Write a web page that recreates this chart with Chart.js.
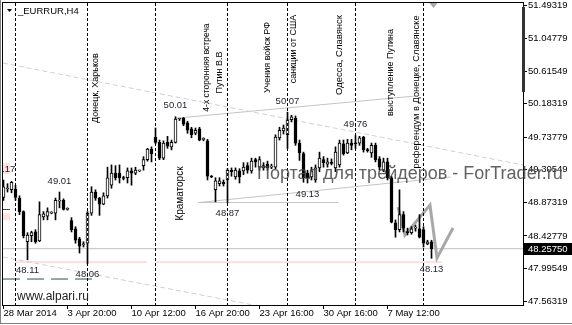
<!DOCTYPE html>
<html><head><meta charset="utf-8">
<script src="https://cdn.jsdelivr.net/npm/chart.js@4.4.1/dist/chart.umd.min.js"></script>
<style>html,body{margin:0;padding:0;background:#fff;}canvas{display:block;}</style>
</head><body>
<canvas id="c" width="572" height="325"></canvas>
<script>
// ---------- data ----------
const symbolName = "_EURRUR,H4";
const opens  = [48.94,49.05,49.04,49.05,48.93,48.75,48.35,48.43,48.48,48.36,48.68,48.69,48.73,48.73,48.89,48.90,48.78,48.63,48.52,48.39,48.31,48.33,48.73,49.01,48.93,48.85,48.96,49.10,49.26,49.26,49.20,49.20,49.29,49.26,49.29,49.36,49.44,49.58,49.74,49.67,49.46,49.67,49.61,49.67,49.98,49.99,49.93,49.85,49.79,49.85,49.71,49.69,49.22,49.04,49.12,49.14,49.17,49.30,49.21,49.29,49.29,49.36,49.29,49.44,49.34,49.33,49.38,49.34,49.34,49.73,49.82,49.77,49.97,49.99,49.66,49.52,49.26,49.21,49.17,49.33,49.44,49.38,49.40,49.33,49.37,49.65,49.53,49.66,49.66,49.66,49.74,49.57,49.53,49.63,49.45,49.30,49.41,49.20,48.60,48.51,48.71,48.48,48.47,48.53,48.52,48.51,48.32,48.35];
const highs  = [49.17,49.12,49.15,49.10,48.96,48.76,48.47,48.49,48.51,48.88,48.75,48.80,48.75,48.93,49.01,48.92,48.80,48.67,48.55,48.41,48.35,48.75,49.08,49.04,48.94,49.00,49.34,49.37,49.36,49.37,49.22,49.33,49.33,49.34,49.30,49.48,49.59,49.61,49.86,49.70,49.69,49.75,49.70,50.01,49.99,50.00,49.95,49.87,49.86,49.87,49.73,49.71,49.23,49.20,49.20,49.17,49.32,49.33,49.33,49.32,49.40,49.40,49.46,49.46,49.48,49.40,49.42,49.38,49.77,49.87,49.90,50.07,50.03,50.02,49.70,49.54,49.30,49.34,49.37,49.54,49.48,49.46,49.45,49.61,49.70,49.70,49.71,49.71,49.76,49.75,49.75,49.59,49.66,49.66,49.48,49.46,49.46,49.22,48.64,49.04,48.75,48.53,48.55,48.57,48.71,48.55,48.37,48.37];
const lows   = [48.90,49.01,49.00,48.90,48.71,48.40,48.11,48.35,48.33,48.35,48.64,48.64,48.72,48.64,48.80,48.77,48.77,48.48,48.33,48.20,48.28,48.06,48.70,48.90,48.70,48.84,48.93,49.06,49.17,49.13,49.17,49.13,49.10,49.24,49.28,49.30,49.42,49.41,49.65,49.44,49.44,49.59,49.57,49.66,49.96,49.89,49.79,49.73,49.77,49.69,49.69,49.17,49.20,48.88,49.09,49.09,48.87,49.22,49.18,49.13,49.24,49.26,49.26,49.34,49.30,49.30,49.30,49.32,49.32,49.70,49.78,49.59,49.94,49.63,49.43,49.14,49.13,49.17,49.14,49.28,49.34,49.34,49.37,49.28,49.34,49.50,49.52,49.57,49.59,49.63,49.54,49.54,49.47,49.41,49.30,49.28,49.17,48.60,48.41,48.48,48.48,48.44,48.45,48.49,48.40,48.28,48.31,48.13];
const closes = [49.08,49.06,49.14,48.94,48.75,48.43,48.44,48.47,48.35,48.71,48.72,48.75,48.74,48.90,48.90,48.78,48.78,48.51,48.37,48.29,48.32,48.73,49.01,48.93,48.85,48.96,49.20,49.26,49.20,49.20,49.19,49.29,49.26,49.30,49.29,49.44,49.58,49.52,49.67,49.46,49.66,49.62,49.67,49.98,49.98,49.91,49.83,49.77,49.83,49.70,49.71,49.22,49.21,49.16,49.16,49.12,49.30,49.28,49.30,49.21,49.34,49.30,49.42,49.41,49.44,49.36,49.33,49.35,49.74,49.83,49.86,49.97,50.01,49.66,49.53,49.20,49.20,49.29,49.33,49.46,49.40,49.41,49.39,49.54,49.66,49.52,49.66,49.63,49.65,49.73,49.57,49.56,49.63,49.44,49.34,49.41,49.20,48.61,48.51,48.71,48.53,48.47,48.52,48.54,48.41,48.33,48.35,48.2575];

const timeLabels = ["28 Mar 2014","3 Apr 20:00","10 Apr 12:00","16 Apr 20:00","23 Apr 16:00","30 Apr 16:00","7 May 12:00"];
const timeLabelBars = [0,16,32,48,64,80,96];
const priceTicks = [51.49319,51.04779,50.61549,50.18319,49.73779,49.30549,48.87319,48.42779,47.99549,47.56319];
const lastPrice = 48.25750;

const eventBars = [3,21,38,56,71,88,105];
const eventTexts = ["Донецк, Харьков","Краматорск","4-х сторонняя встреча","Путин В.В","Учения войск РФ","санкции от США","Одесса, Славянск","выступление Путина","референдум в Донецке, Славянске"];

const extremeTexts = ["49.17","48.11","49.01","48.06","50.01","48.87","50.07","49.13","49.76","48.13"];
const extremeBars  = [0,6,14,21,43,56,71,76,88,107];
const extremeKinds = ["high","low","high","low","high","low","high","low","high","low"];

// drawn objects (bar index / price)
const channelUpperX = [-0.125,129.875], channelUpperY = [50.723,49.369];
const channelLowerX = [-0.125,62.5],    channelLowerY = [48.147,47.510];
const resistX = [43,103],               resistY = [49.99,50.285];
const supportX = [48.75,83.75],         supportY = [48.87,48.87];
const risingX = [48.75,111.75],         risingY = [48.87,49.21];
const pinkAX = [2.875,35.875], pinkBX = [38.125,109.625], pinkLevel = 48.08;
const tealX = [-0.125,22.375], tealLevel = 47.855;
const zigzagX = [98.625,100.375,106.625,108.375,112.375];
const zigzagY = [48.811,48.439,48.838,48.134,48.532];

// ---------- build ----------
const N = opens.length;
const wickData = [], bodyData = [], bodyFill = [];
for (let i = 0; i < N; i++) {
  wickData.push({x: i, y: [lows[i], highs[i]]});
  bodyData.push({x: i, y: [opens[i], closes[i]]});
  bodyFill.push(closes[i] >= opens[i] ? '#ffffff' : '#000000');
}
const pts = (xs, ys) => xs.map((x, k) => ({x: x, y: Array.isArray(ys) ? ys[k] : ys}));
const lineDs = (data, color, width, dash, order) => ({type: 'line', data, borderColor: color, borderWidth: width, borderDash: dash || [], pointRadius: 0, fill: false, tension: 0, order: order});

const FONT = "'Liberation Sans', Arial, sans-serif";

const notes = [
  {t: 0, x: 23.125, y: 50.391, s: 9},
  {t: 1, x: 44.125, y: 48.990, s: 10},
  {t: 2, x: 50.875, y: 50.663, s: 8.5},
  {t: 3, x: 54.125, y: 50.597, s: 9},
  {t: 4, x: 66.0,   y: 50.796, s: 9},
  {t: 5, x: 72.625, y: 50.909, s: 9},
  {t: 6, x: 83.875, y: 50.829, s: 9.5},
  {t: 7, x: 96.875, y: 50.597, s: 9},
  {t: 8, x: 103.125, y: 50.338, s: 9.3}
];

const decor = {
  id: 'decor',
  afterDatasetsDraw(chart) {
    const ctx = chart.ctx, a = chart.chartArea, sx = chart.scales.x, sy = chart.scales.y;
    // event lines
    ctx.save();
    ctx.strokeStyle = '#000'; ctx.lineWidth = 1; ctx.setLineDash([3, 2]);
    eventBars.forEach(b => {
      const x = sx.getPixelForValue(b);
      ctx.beginPath(); ctx.moveTo(x, a.top); ctx.lineTo(x, a.bottom); ctx.stroke();
    });
    ctx.restore();
    // rotated notes
    ctx.save();
    ctx.fillStyle = '#000';
    notes.forEach(n => {
      ctx.save();
      ctx.font = n.s + 'px ' + FONT;
      ctx.translate(sx.getPixelForValue(n.x), sy.getPixelForValue(n.y));
      ctx.rotate(-Math.PI / 2);
      ctx.textAlign = 'center'; ctx.textBaseline = 'middle';
      ctx.fillText(eventTexts[n.t], 0, 0);
      ctx.restore();
    });
    ctx.restore();
    // extreme labels
    ctx.save();
    ctx.beginPath(); ctx.rect(a.left, a.top, a.right - a.left, a.bottom - a.top); ctx.clip();
    ctx.fillStyle = '#ffe0e0';
    ctx.fillRect(a.left, sy.getPixelForValue(49.17) - 17, 7, 11);
    ctx.fillRect(a.left, sy.getPixelForValue(48.69) - 3, 7, 7);
    ctx.strokeStyle = '#2f4f4f'; ctx.lineWidth = 1;
    ctx.beginPath(); ctx.moveTo(a.left, sy.getPixelForValue(48.785) + 0.5); ctx.lineTo(a.left + 7, sy.getPixelForValue(48.785) + 0.5); ctx.stroke();
    ctx.font = '9.5px ' + FONT; ctx.fillStyle = '#1e1e2a';
    ctx.textAlign = 'center'; ctx.textBaseline = 'middle';
    extremeTexts.forEach((t, k) => {
      const b = extremeBars[k];
      const x = sx.getPixelForValue(b);
      const y = extremeKinds[k] === 'high' ? sy.getPixelForValue(highs[b]) - 11 : sy.getPixelForValue(lows[b]) + 11;
      ctx.fillText(t, x, y);
    });
    ctx.restore();
  },
  afterDraw(chart) {
    const ctx = chart.ctx, a = chart.chartArea, sx = chart.scales.x, sy = chart.scales.y;
    ctx.save();
    // frame
    ctx.strokeStyle = '#000'; ctx.lineWidth = 1;
    ctx.strokeRect(a.left - 0.5, a.top - 0.5, a.right - a.left + 1, a.bottom - a.top + 1);
    // outer border
    ctx.strokeStyle = '#808080';
    ctx.beginPath(); ctx.moveTo(0.5, 0); ctx.lineTo(0.5, 324); ctx.moveTo(0, 323.5); ctx.lineTo(572, 323.5); ctx.stroke();
    // right dark bar
    ctx.fillStyle = '#333';
    ctx.fillRect(a.right - 1, a.top + 4, 3, 85);
    // header
    ctx.fillStyle = '#000';
    ctx.beginPath(); ctx.moveTo(7, 9); ctx.lineTo(12, 9); ctx.lineTo(9.5, 12); ctx.closePath(); ctx.fill();
    ctx.font = '9.5px ' + FONT; ctx.textBaseline = 'middle'; ctx.textAlign = 'left';
    ctx.fillText(symbolName, 18, 11);
    // shift triangle
    ctx.fillStyle = '#a8a8a8';
    const tx = sx.getPixelForValue(107.5);
    ctx.beginPath(); ctx.moveTo(tx - 4, a.top); ctx.lineTo(tx + 4, a.top); ctx.lineTo(tx, a.top + 5); ctx.closePath(); ctx.fill();
    // price box
    const yp = sy.getPixelForValue(lastPrice);
    ctx.fillStyle = '#000';
    ctx.fillRect(a.right + 1, Math.round(yp) - 6, 48, 12);
    ctx.fillStyle = '#fff'; ctx.font = '9.5px ' + FONT;
    ctx.fillText(lastPrice.toFixed(5), a.right + 5, Math.round(yp));
    // site label
    ctx.fillStyle = '#222'; ctx.font = '12px ' + FONT;
    ctx.textBaseline = 'alphabetic';
    ctx.fillText('www.alpari.ru', 17, 300);
    // watermark
    ctx.fillStyle = 'rgba(70,70,70,0.85)'; ctx.font = '18px ' + FONT;
    ctx.fillText('Портал для трейдеров - ForTrader.ru', 257, 179);
    ctx.restore();
  }
};

new Chart(document.getElementById('c'), {
  type: 'bar',
  data: {
    datasets: [
      lineDs(pts(channelUpperX, channelUpperY), '#d0d0d0', 1, [5, 3], 10),
      lineDs(pts(channelLowerX, channelLowerY), '#d0d0d0', 1, [5, 3], 10),
      lineDs(pts(resistX, resistY), '#c4c4c4', 1, null, 10),
      lineDs(pts(supportX, supportY), '#c4c4c4', 1, null, 10),
      lineDs(pts(risingX, risingY), '#c4c4c4', 1, null, 10),
      lineDs(pts(pinkAX, pinkLevel), '#ffe0e0', 2, null, 10),
      lineDs(pts(pinkBX, pinkLevel), '#ffe0e0', 2, null, 10),
      lineDs(pts(tealX, tealLevel), '#2f4f4f', 1, [17, 7], 10),
      lineDs(pts([-0.125, 129.875], lastPrice), '#c0c0c0', 1, null, 10),
      lineDs(pts(zigzagX, zigzagY), '#a8a8a8', 3, null, 9),
      {label: 'wicks', data: wickData, backgroundColor: '#000', borderWidth: 0, barThickness: 1, grouped: false, order: 2},
      {label: 'bodies', data: bodyData, backgroundColor: bodyFill, borderColor: '#000', borderWidth: 1, borderSkipped: false, barThickness: 3, grouped: false, minBarLength: 1, order: 1}
    ]
  },
  options: {
    responsive: false, animation: false, devicePixelRatio: 1,
    layout: {padding: {left: 3, top: 3, right: 0, bottom: 0}},
    plugins: {legend: {display: false}, tooltip: {enabled: false}},
    scales: {
      x: {
        type: 'linear', min: -0.125, max: 129.875, offset: false,
        grid: {display: true, drawOnChartArea: false, drawTicks: true, tickLength: 4, color: '#000', offset: false},
        border: {display: true, color: '#000'},
        ticks: {autoSkip: false, maxRotation: 0, minRotation: 0, align: 'start', padding: -1, color: '#000',
                font: {family: FONT, size: 9.5}, callback: (v, i) => timeLabels[i]},
        afterBuildTicks: s => { s.ticks = timeLabelBars.map(v => ({value: v})); },
        afterFit: s => { s.height = 20; s.paddingLeft = 0; s.paddingRight = 0; }
      },
      y: {
        type: 'linear', position: 'right', min: 47.5101, max: 51.5198,
        grid: {display: true, drawOnChartArea: false, drawTicks: true, tickLength: 4, color: '#000'},
        border: {display: true, color: '#000'},
        ticks: {padding: 1, color: '#000', font: {family: FONT, size: 9.5}, callback: v => Number(v).toFixed(5)},
        afterBuildTicks: s => { s.ticks = priceTicks.map(v => ({value: v})); },
        afterFit: s => { s.width = 49; s.paddingTop = 0; s.paddingBottom = 0; }
      }
    }
  },
  plugins: [decor]
});
</script>
</body></html>
